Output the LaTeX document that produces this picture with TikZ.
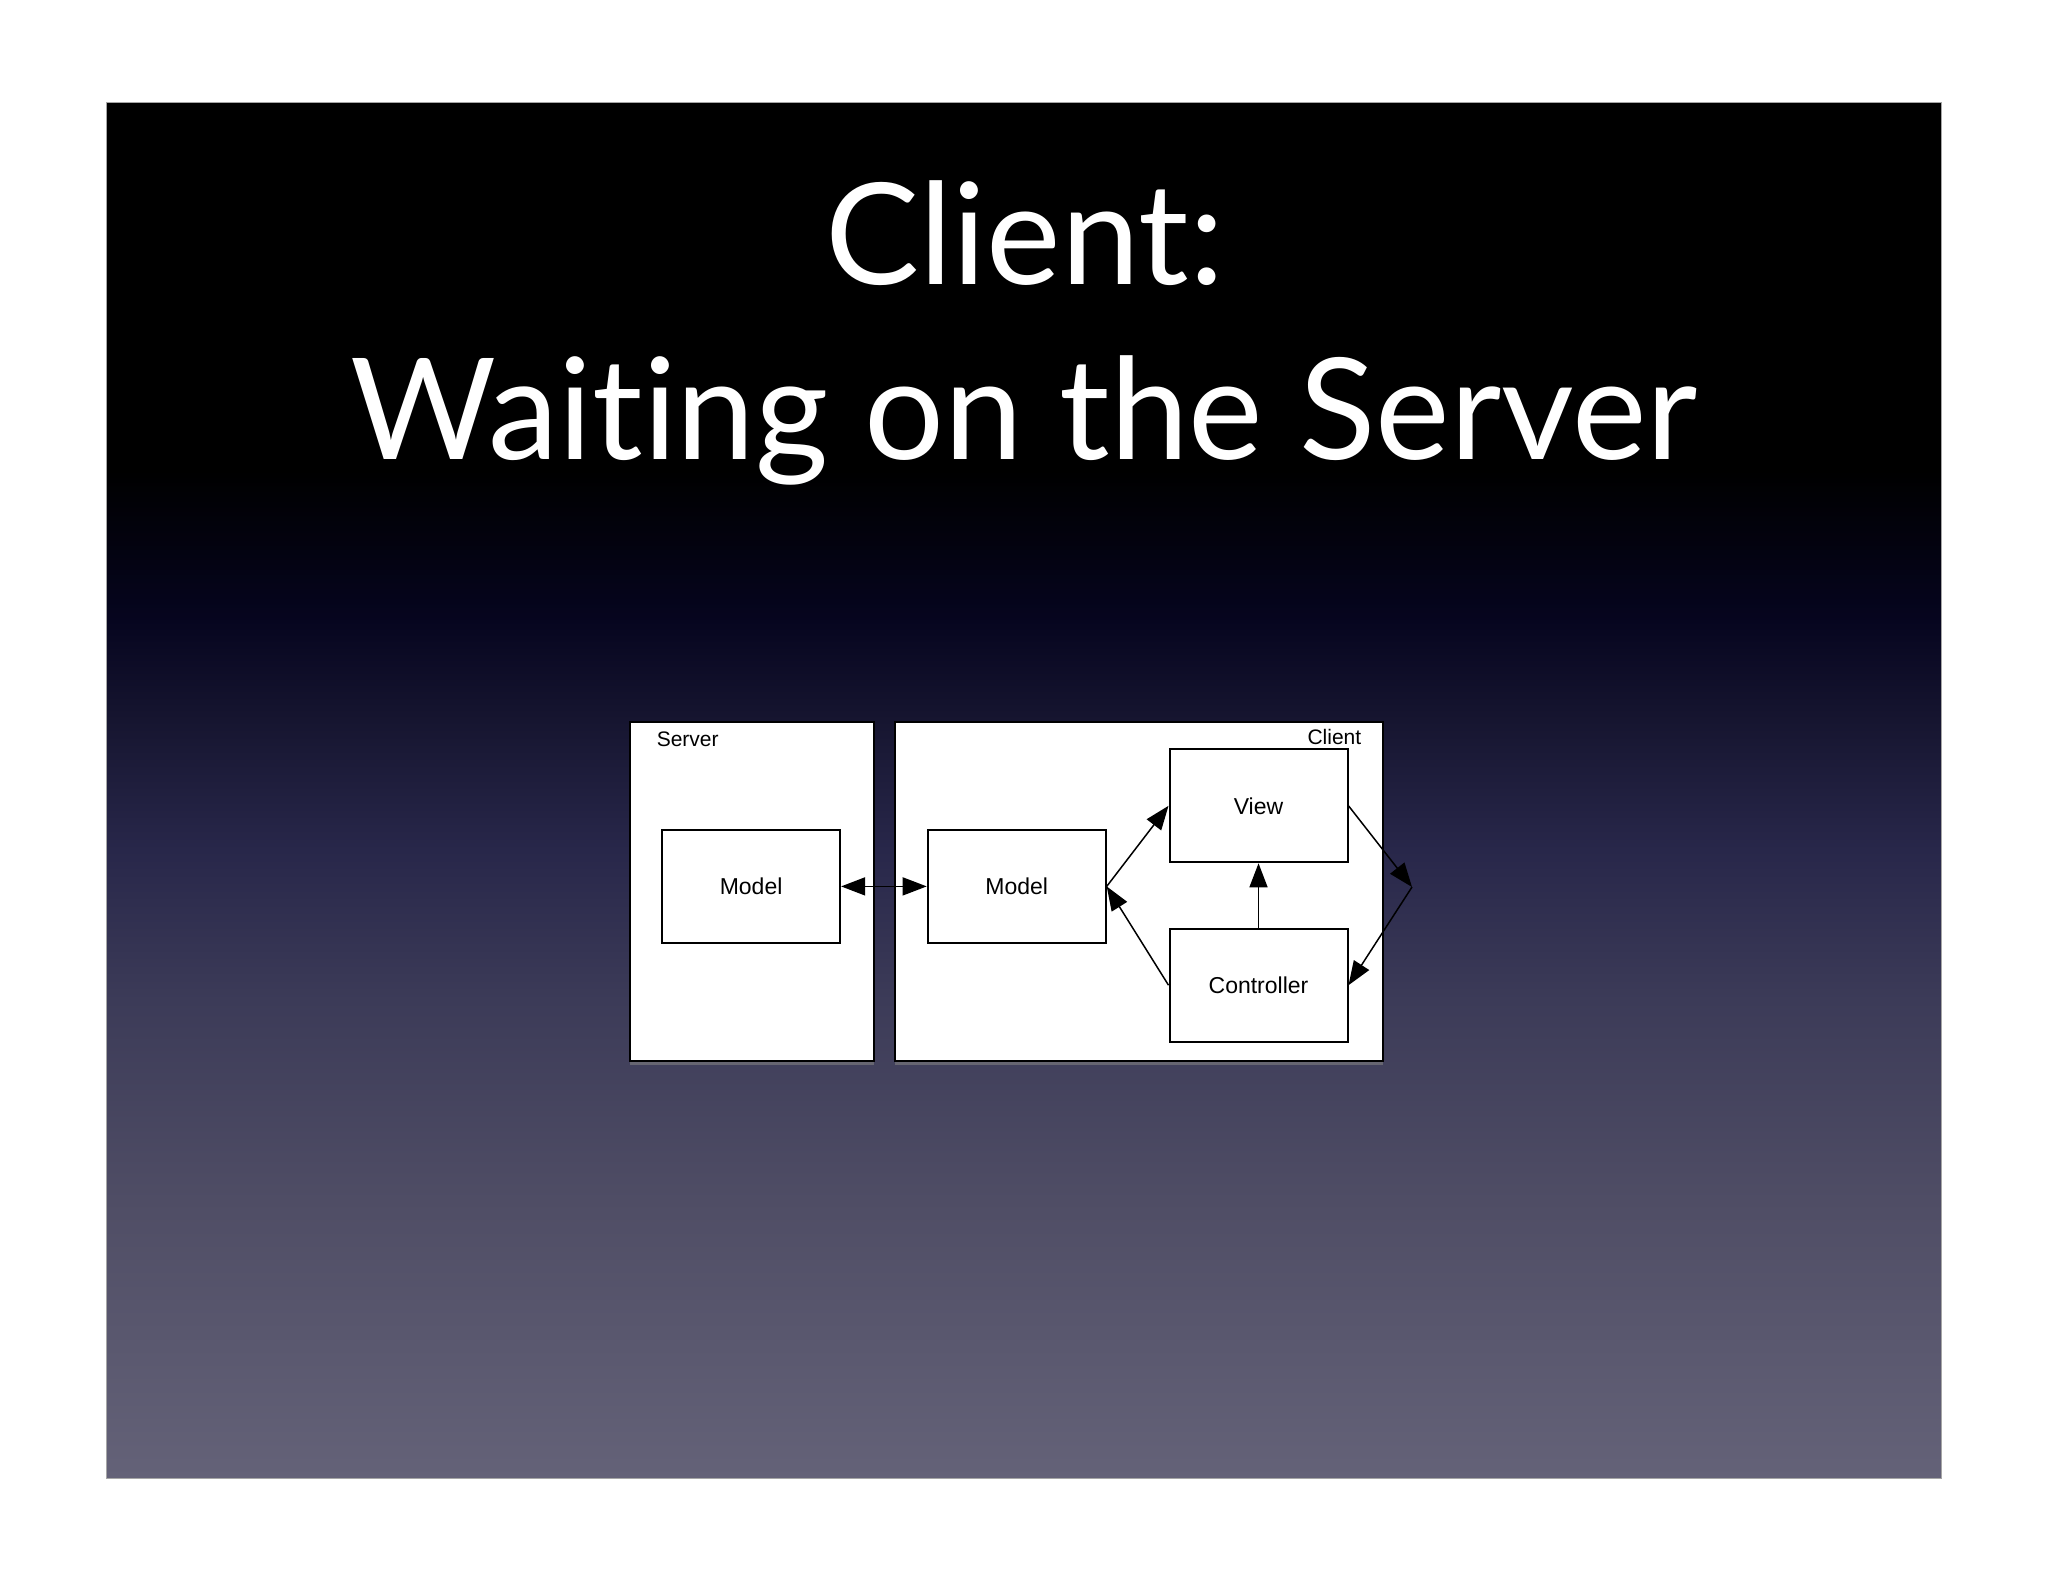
\documentclass[tikz,border=0pt]{standalone}
\usepackage{fontspec}
\setmainfont{Liberation Sans}
\newfontfamily\titlefont[Ligatures=NoCommon]{Lato}
\usetikzlibrary{arrows.meta,shadows}
\definecolor{bgBottom}{HTML}{646278}
\definecolor{bgLow}{HTML}{4f4d65}
\definecolor{bgMid}{HTML}{3c3b58}
\definecolor{bgNavy}{HTML}{28274a}
\definecolor{bgDeep}{HTML}{161530}
\definecolor{bgDark}{HTML}{06051f}
\pgfdeclareverticalshading{slidebg}{100bp}{color(0bp)=(bgBottom); color(25bp)=(bgBottom); color(35.11bp)=(bgLow); color(42.38bp)=(bgMid); color(47.84bp)=(bgNavy); color(52.56bp)=(bgDeep); color(56.2bp)=(bgDark); color(61.65bp)=(black); color(75bp)=(black); color(100bp)=(black)}

\begin{document}
\begin{tikzpicture}[x=0.5pt, y=-0.5pt, >={Triangle[length=12pt,width=9pt]}, line width=0.75pt]
  \tikzstyle{Pane}=[draw=black, fill=white, line width=1pt, inner sep=0pt, drop shadow={shadow xshift=0pt, shadow yshift=-2pt, opacity=0.6}]
  \tikzstyle{Box}=[draw=black, fill=white, line width=1pt, minimum width=89pt, minimum height=56.5pt, inner sep=0pt, font=\fontsize{11.5}{13}\selectfont]
  \tikzstyle{Tag}=[inner sep=0pt, font=\fontsize{10.5}{12}\selectfont]
  \tikzstyle{Title}=[text=white, anchor=base, inner sep=0pt, font=\titlefont\fontsize{70.5}{80}\selectfont]

  \useasboundingbox (0,0) rectangle (2048,1582);
  \fill[white] (0,0) rectangle (2048,1582);
  \shade[shading=slidebg] (106,103) rectangle (1941,1478);
  \draw[gray!70, line width=0.5pt] (106,103) rectangle (1941,1478);

  \node[Title] (ttlA) at (1025,285) {Client:};
  \node[Title] (ttlB) at (1024,460) {Waiting on the Server};

  \node[Pane, minimum width=122.1pt, minimum height=169.5pt] (srv) at (751.6,891.2) {};
  \node[Pane, minimum width=244.1pt, minimum height=169.5pt] (cli) at (1138.7,891.2) {};
  \node[Tag, anchor=west] (srvtag) at (656,739) {Server};
  \node[Tag, anchor=east] (clitag) at (1362,737) {Client};

  \node[Box] (smodel) at (751.1,886.4) {Model};
  \node[Box] (cmodel) at (1016.7,886.4) {Model};
  \node[Box] (view) at (1258.5,805.8) {View};
  \node[Box] (ctrl) at (1258.5,985.2) {Controller};
  \coordinate (bend) at (1412,887);

  \draw [<->] (smodel) -- (cmodel);
  \draw [->] (cmodel.east) -- (view.west);
  \draw [->] (ctrl.west) -- (cmodel.east);
  \draw [->] (ctrl) -- (view);
  \draw [->] (view.east) -- (bend);
  \draw [->] (bend) -- (ctrl.east);

\end{tikzpicture}
\end{document}
